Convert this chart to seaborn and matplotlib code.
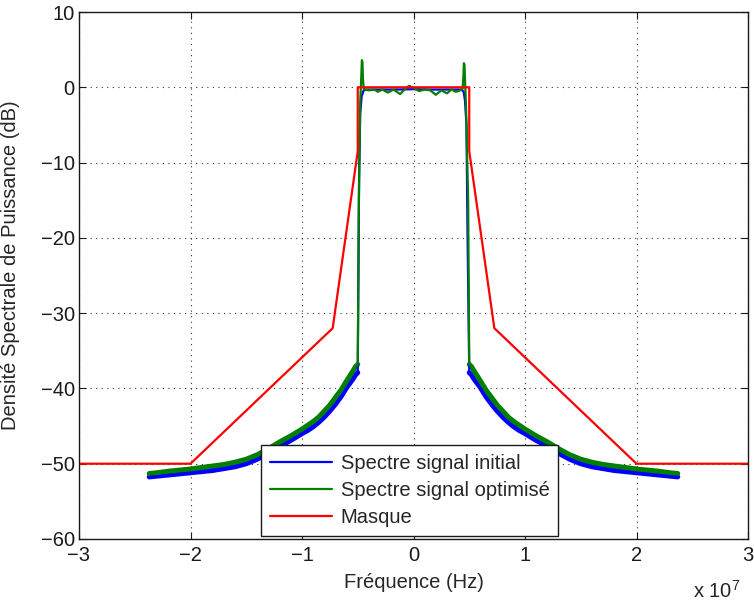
import numpy as np
import pandas as pd
import matplotlib
matplotlib.use("Agg")
import matplotlib.pyplot as plt
import seaborn as sns

# ---------------- data (frequency in units of 1e7 Hz, PSD in dB) ----------------
# out-of-band tails (read at |f|, same on both sides of the spectrum)
tail_f = [0.5, 0.52, 0.54, 0.57, 0.6, 0.65, 0.7, 0.75, 0.8, 0.85, 0.9, 0.95, 1.0, 1.1, 1.2,
          1.3, 1.4, 1.5, 1.6, 1.7, 1.8, 1.9, 2.0, 2.1, 2.2, 2.3, 2.37]
tail_blue = [-37.9, -38.2, -38.7, -39.3, -39.9, -41.1, -42.1, -43.0, -43.8, -44.5, -45.1, -45.6, -46.0,
             -46.9, -47.7, -48.6, -49.4, -50.0, -50.4, -50.65, -50.9, -51.05, -51.2, -51.35, -51.5,
             -51.65, -51.75]
tail_green = [-36.8, -37.1, -37.6, -38.3, -39.0, -40.2, -41.2, -42.2, -43.0, -43.8, -44.4, -44.9, -45.4,
              -46.3, -47.1, -48.0, -48.8, -49.4, -49.8, -50.1, -50.3, -50.5, -50.7, -50.85, -51.0,
              -51.2, -51.3]

# in-band part
band_blue_f = [-0.495, -0.488, -0.478, -0.465, -0.45, -0.43, -0.3, -0.15, 0.0, 0.15, 0.3, 0.43,
               0.45, 0.462, 0.475, 0.485, 0.495]
band_blue_db = [-37.9, -12.0, -3.5, -1.2, -0.5, -0.3, -0.3, -0.3, -0.25, -0.3, -0.3, -0.3,
                -0.6, -1.8, -5.0, -20.0, -37.9]
band_green_f = [-0.5, -0.49, -0.478, -0.468, -0.463, -0.458, -0.453, -0.445,
                -0.4, -0.35, -0.32, -0.28, -0.23, -0.18, -0.12, -0.08, -0.04, 0.0, 0.05, 0.1, 0.15,
                0.2, 0.25, 0.3, 0.34, 0.38, 0.42, 0.44,
                0.448, 0.452, 0.457, 0.463, 0.47, 0.49, 0.5]
band_green_db = [-36.8, -15.0, -2.0, 1.5, 3.6, 3.4, 1.0, -0.3,
                 -0.4, -0.3, -0.6, -0.3, -0.7, -0.3, -0.9, -0.3, 0.2, -0.1, -0.5, -0.3, -0.4,
                 -1.0, -0.4, -0.8, -0.3, -0.6, -0.4, -0.2,
                 1.5, 3.2, 3.0, 0.5, -2.0, -15.0, -36.8]

mask_f = [-3.0, -2.0, -0.725, -0.5, -0.5, 0.5, 0.5, 0.725, 2.0, 3.0]
mask_db = [-50.0, -50.0, -32.0, -8.5, 0.0, 0.0, -8.5, -32.0, -50.0, -50.0]

labels = ["Spectre signal initial", "Spectre signal optimisé", "Masque"]
colors = ["#0000ff", "#007f00", "#ff0000"]
x_ticks = [-3, -2, -1, 0, 1, 2, 3]
y_ticks = [-60, -50, -40, -30, -20, -10, 0, 10]

# ---------------- assemble tables ----------------
left_f = [-v for v in reversed(tail_f)]
blue = pd.DataFrame({
    "f": left_f + band_blue_f[1:-1] + tail_f,
    "db": list(reversed(tail_blue)) + band_blue_db[1:-1] + tail_blue,
})
green = pd.DataFrame({
    "f": left_f + band_green_f[1:-1] + tail_f,
    "db": list(reversed(tail_green)) + band_green_db[1:-1] + tail_green,
})
mask = pd.DataFrame({"f": mask_f, "db": mask_db})

# ---------------- style ----------------
sns.set_theme(style="white")
plt.rcParams["font.family"] = ["Liberation Sans", "DejaVu Sans"]
plt.rcParams["mathtext.default"] = "regular"
FS = 14.5

fig = plt.figure(figsize=(7.54, 6.04), dpi=100)
ax = fig.add_axes([79 / 754, 1 - 539 / 604, 669 / 754, 527 / 604])

# thick noisy tails (band look)
for df, c in [(blue, colors[0]), (green, colors[1])]:
    for side in (df[df.f <= -0.5], df[df.f >= 0.5]):
        sns.lineplot(data=side, x="f", y="db", color=c, lw=3.6, sort=False,
                     estimator=None, ax=ax, legend=False)

sns.lineplot(data=blue, x="f", y="db", color=colors[0], lw=1.6, sort=False,
             estimator=None, ax=ax, label=labels[0])
sns.lineplot(data=green, x="f", y="db", color=colors[1], lw=1.6, sort=False,
             estimator=None, ax=ax, label=labels[1])
sns.lineplot(data=mask, x="f", y="db", color=colors[2], lw=1.6, sort=False,
             estimator=None, ax=ax, label=labels[2])

ax.set_xlim(-3, 3)
ax.set_ylim(-60, 10)
ax.set_xticks(x_ticks)
ax.set_yticks(y_ticks)
ax.set_xticklabels([str(v) if v >= 0 else "\u2212" + str(-v) for v in x_ticks], fontsize=FS)
ax.set_yticklabels([str(v) if v >= 0 else "\u2212" + str(-v) for v in y_ticks], fontsize=FS)

ax.grid(True, color="0.2", linestyle=(0, (1, 4)), lw=0.8)
ax.tick_params(direction="in", length=5, width=0.8, top=True, right=True,
               bottom=True, left=True, colors="k", pad=5)
ax.tick_params(axis="y", pad=3)
for s in ax.spines.values():
    s.set_color("k")
    s.set_linewidth(1.0)

ax.set_xlabel("Fréquence (Hz)", fontsize=FS, labelpad=6)
ax.set_ylabel("Densité Spectrale de Puissance (dB)", fontsize=FS)
ax.yaxis.set_label_coords(-0.088, 0.52)

fig.text(740 / 754, 1 - 598 / 604, r"x 10$^{7}$", fontsize=FS, ha="right", va="baseline")

leg = ax.legend(loc="lower left", bbox_to_anchor=(0.272, 0.006), borderaxespad=0,
                fontsize=FS, frameon=True, fancybox=False, edgecolor="k",
                handlelength=3.1, handletextpad=0.4, labelspacing=0.4, borderpad=0.45)
leg.get_frame().set_linewidth(1.0)
leg.get_frame().set_alpha(1)
for h in leg.get_lines():
    h.set_linewidth(1.6)

fig.savefig("out.png", dpi=100)
